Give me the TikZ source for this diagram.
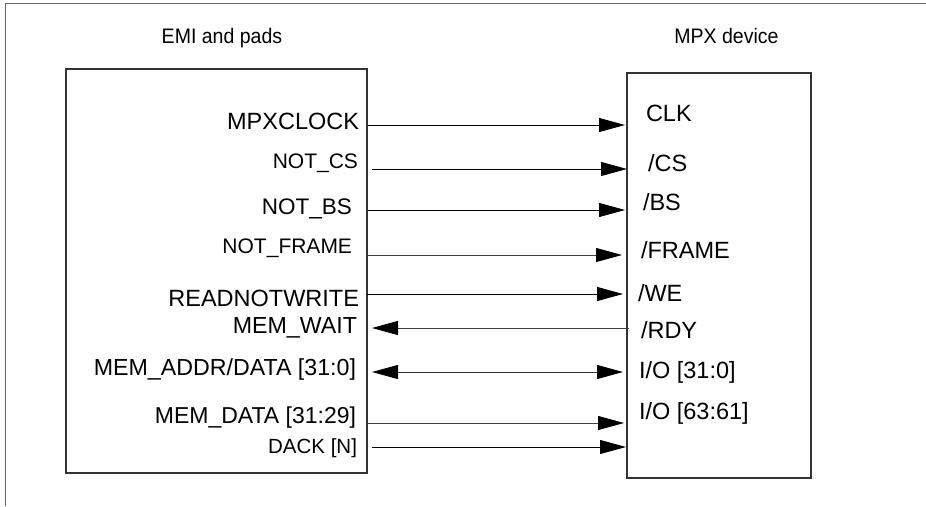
\documentclass[tikz,border=0pt]{standalone}
\usepackage{fontspec}
\setmainfont{Liberation Sans}
\usetikzlibrary{arrows.meta}
\tikzset{
  hd/.tip={Triangle[length=26pt,width=14pt,color=black,fill=black]},
  sig/.style={draw=black, line width=0.9pt, -hd},
  sigl/.style={draw=black!75, line width=0.9pt, -hd},
  sigb/.style={draw=black!80, line width=0.9pt, hd-hd},
  blk/.style={draw=black!80, line width=1.3pt, inner sep=0pt, outer sep=0pt, anchor=north west},
  lbl/.style={inner sep=0pt, outer sep=0pt, font=\fontsize{23.5}{28}\selectfont},
  lbls/.style={inner sep=0pt, outer sep=0pt, font=\fontsize{21}{25}\selectfont},
  ttl/.style={inner sep=0pt, outer sep=0pt, anchor=base, font=\fontsize{21}{25}\selectfont},
}
\begin{document}
\begin{tikzpicture}[x=1pt,y=-1pt]
\useasboundingbox (0,0) rectangle (926,506);
% outer frame
\draw[black!60, line width=1.6pt] (926,3.5) -- (5.5,3.5) -- (5.5,506);
% titles
\node[ttl] (t1) at (222,43.5) {\scalebox{0.93}[1]{EMI and pads}};
\node[ttl] (t2) at (726.5,43.5) {\scalebox{0.93}[1]{MPX device}};
% blocks
\node[blk, minimum width=301pt, minimum height=404pt] (emi) at (66,69) {};
\node[blk, minimum width=184pt, minimum height=405pt] (mpx) at (627,73) {};
% left labels
\node[lbl, anchor=base east] (l1) at (359,129.3) {MPXCLOCK};
\node[lbls, anchor=base east] (l2) at (358,168.3) {NOT\_CS};
\node[lbl, font=\fontsize{22.5}{27}\selectfont, anchor=base east] (l3) at (352,214) {NOT\_BS};
\node[lbls, anchor=base east] (l4) at (352,253.3) {NOT\_FRAME};
\node[lbl, anchor=base east] (l5) at (359,306) {READNOTWRITE};
\node[lbl, font=\fontsize{23.2}{27}\selectfont, anchor=base east] (l6) at (357,333.3) {MEM\_WAIT};
\node[lbl, font=\fontsize{23.2}{27}\selectfont, anchor=base east] (l7) at (356,375) {MEM\_ADDR/DATA [31:0]};
\node[lbl, font=\fontsize{23}{27}\selectfont, anchor=base east] (l8) at (356,423.3) {MEM\_DATA [31:29]};
\node[lbls, font=\fontsize{20.5}{25}\selectfont, anchor=base east] (l9) at (357,453) {DACK [N]};
% right labels
\node[lbl, anchor=base west] (r1) at (646,121.7) {CLK};
\node[lbl, anchor=base west] (r2) at (648,171.6) {/CS};
\node[lbl, anchor=base west] (r3) at (643,210) {/BS};
\node[lbl, anchor=base west] (r4) at (641,258) {/FRAME};
\node[lbl, anchor=base west] (r5) at (638,301.6) {/WE};
\node[lbl, anchor=base west] (r6) at (641,338) {/RDY};
\node[lbl, anchor=base west] (r7) at (639,378) {I/O [31:0]};
\node[lbl, anchor=base west] (r8) at (639,419) {I/O [63:61]};
% connector end points
\coordinate (s1) at (368,125);  \coordinate (e1) at (625,125);
\coordinate (s2) at (372,169);  \coordinate (e2) at (627,169);
\coordinate (s3) at (368,210);  \coordinate (e3) at (625,210);
\coordinate (s4) at (367,255);  \coordinate (e4) at (622,255);
\coordinate (s5) at (367,294);  \coordinate (e5) at (623,294);
\coordinate (s6) at (629,328);  \coordinate (e6) at (372,328);
\coordinate (s7) at (372,372);  \coordinate (e7) at (623,372);
\coordinate (s8) at (368,423);  \coordinate (e8) at (624,423);
\coordinate (s9) at (372,447);  \coordinate (e9) at (626,447);
% connectors
\draw[sig] (s1) -- (e1);
\draw[sig] (s2) -- (e2);
\draw[sig] (s3) -- (e3);
\draw[sigl] (s4) -- (e4);
\draw[sig] (s5) -- (e5);
\draw[sigl] (s6) -- (e6);
\draw[sigb] (s7) -- (e7);
\draw[sigl] (s8) -- (e8);
\draw[sig] (s9) -- (e9);
\end{tikzpicture}
\end{document}
